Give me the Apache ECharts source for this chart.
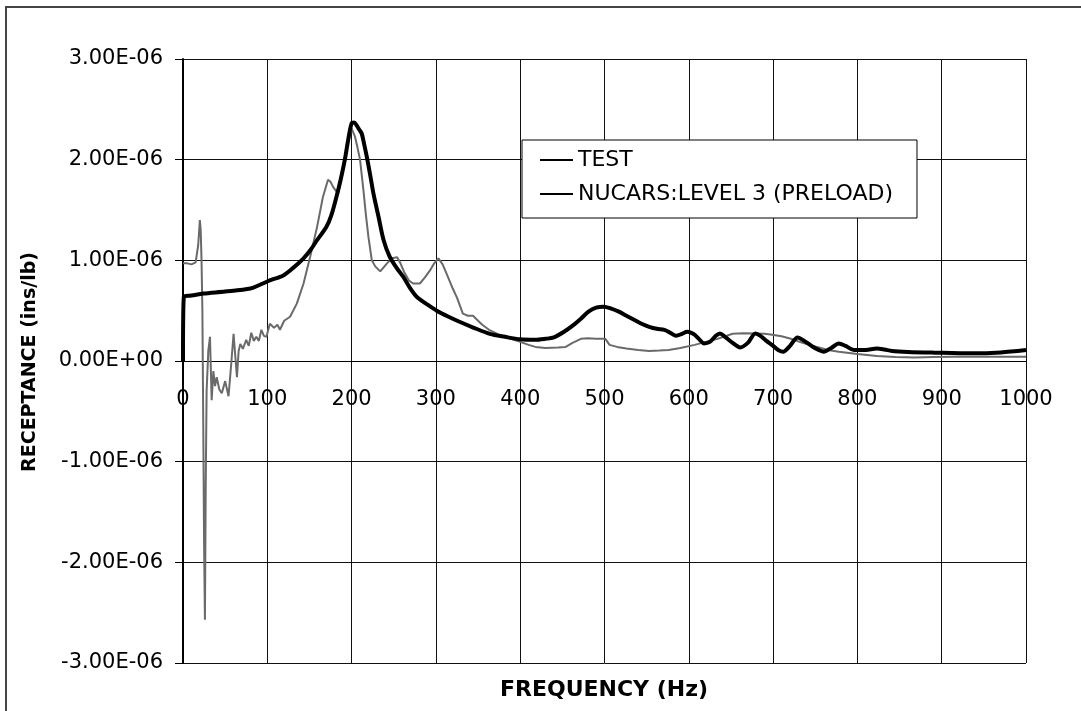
<!DOCTYPE html>
<html>
<head>
<meta charset="utf-8">
<script src="https://cdn.jsdelivr.net/npm/echarts@6/dist/echarts.min.js"></script>
<style>
html,body{margin:0;padding:0;background:#fff;}
#chart{width:1081px;height:711px;}
</style>
</head>
<body>
<div id="chart"></div>
<script>
// Frequency ticks (Hz)
var xTicks = [0, 100, 200, 300, 400, 500, 600, 700, 800, 900, 1000];
// Receptance in units of 1E-06 ins/lb
var yTicks = [-3, -2, -1, 0, 1, 2, 3];

var seriesNames = ['TEST', 'NUCARS:LEVEL 3 (PRELOAD)'];

// TEST (measured)
var testFreq = [0,5,10,15,18,20,21,22,23,24,25,26,27,28,30,32,34,36,38,40,43,46,50,54,57,60,62,64,66,68,71,75,78,81,84,87,90,93,96,99,103,108,112,115,120,127,135,143,151,159,166,172,175,178,184,189,194,200,204,207,210,214,217,220,224,228,234,238,242,248,254,258,262,268,273,281,287,293,298,303,308,314,320,325,332,338,344,350,355,363,373,385,400,410,418,430,445,454,462,472,480,490,501,506,515,526,540,553,565,576,590,607,620,634,652,665,679,690,697,710,720,735,751,765,778,800,823,845,868,890,914,950,1000];
var testVal = [0.97,0.97,0.96,0.98,1.15,1.40,1.30,0.99,0.50,-0.60,-1.80,-2.57,-1.20,-0.30,0.10,0.24,-0.39,-0.10,-0.25,-0.16,-0.28,-0.32,-0.20,-0.35,-0.05,0.27,0.05,-0.16,0.10,0.17,0.12,0.21,0.15,0.28,0.20,0.24,0.20,0.31,0.25,0.24,0.37,0.33,0.36,0.31,0.40,0.44,0.57,0.77,1.04,1.33,1.63,1.80,1.78,1.73,1.66,1.85,2.10,2.31,2.23,2.12,2.00,1.70,1.45,1.23,1.00,0.94,0.89,0.93,0.97,1.02,1.03,0.97,0.89,0.80,0.77,0.77,0.83,0.90,0.97,1.02,0.96,0.84,0.72,0.63,0.47,0.45,0.45,0.40,0.36,0.31,0.27,0.23,0.19,0.16,0.14,0.13,0.135,0.14,0.18,0.22,0.225,0.22,0.22,0.16,0.14,0.125,0.11,0.10,0.105,0.11,0.13,0.16,0.19,0.22,0.27,0.275,0.274,0.27,0.264,0.245,0.224,0.18,0.142,0.11,0.092,0.07,0.05,0.04,0.036,0.04,0.043,0.043,0.043];

// NUCARS model
var nucFreq = [0,1,10,24,50,80,92,103,119,130,143,151,159,170,176,182,187,192,196,200,203,206,209,212,215,218,222,226,232,238,245,253,261,269,277,283,290,301,315,328,345,364,382,400,418,430,440,452,463,472,481,490,499,508,517,526,535,544,553,562,571,578,585,592,598,603,607,613,618,625,632,637,643,652,661,670,679,685,692,699,706,712,720,729,737,747,754,760,769,778,786,796,810,823,832,841,860,891,936,970,1000];
var nucVal = [0,0.64,0.65,0.67,0.69,0.72,0.76,0.80,0.85,0.92,1.02,1.10,1.20,1.33,1.45,1.63,1.80,2.00,2.20,2.36,2.37,2.34,2.30,2.26,2.15,2.03,1.85,1.66,1.43,1.20,1.04,0.93,0.84,0.73,0.64,0.60,0.56,0.50,0.44,0.39,0.33,0.27,0.24,0.215,0.21,0.22,0.234,0.29,0.356,0.42,0.49,0.53,0.54,0.52,0.49,0.45,0.41,0.37,0.34,0.32,0.31,0.28,0.25,0.27,0.29,0.28,0.26,0.21,0.175,0.19,0.25,0.274,0.24,0.18,0.135,0.18,0.274,0.25,0.20,0.158,0.11,0.092,0.15,0.234,0.20,0.142,0.11,0.092,0.13,0.175,0.15,0.109,0.11,0.125,0.115,0.10,0.09,0.083,0.076,0.085,0.109];

function pairs(xs, ys) {
  var out = [];
  for (var i = 0; i < xs.length; i++) out.push([xs[i], ys[i]]);
  return out;
}

var chart = echarts.init(document.getElementById('chart'), null, {renderer: 'canvas'});
var TF = 'DejaVu Sans';
var gridTop = 59, gridBottom = 48, H = 711;
var plotH = H - gridTop - gridBottom;
// pixel distance from bottom of plot to the zero line (derived from the y scale)
var zeroOffset = plotH * (0 - yTicks[0]) / (yTicks[yTicks.length - 1] - yTicks[0]);

chart.setOption({
  backgroundColor: '#ffffff',
  animation: false,
  grid: {left: 183, right: 55, top: gridTop, bottom: gridBottom, containLabel: false},
  xAxis: {
    type: 'value', position: 'bottom', offset: -zeroOffset,
    min: xTicks[0], max: xTicks[xTicks.length - 1], interval: 100,
    axisLine: {show: true, onZero: false, lineStyle: {color: '#000', width: 1}},
    axisTick: {show: false},
    axisLabel: {color: '#000', fontSize: 21, fontFamily: TF, margin: 28,
      formatter: function (v) { return String(v); }},
    splitLine: {show: true, lineStyle: {color: '#111', width: 1}}
  },
  yAxis: {
    type: 'value',
    min: yTicks[0], max: yTicks[yTicks.length - 1], interval: 1,
    axisLine: {show: true, onZero: false, lineStyle: {color: '#000', width: 2}},
    axisTick: {show: true, length: 8, lineStyle: {color: '#000'}},
    axisLabel: {color: '#000', fontSize: 21, fontFamily: TF, margin: 20,
      formatter: function (v) {
        if (v === 0) return '0.00E+00';
        return v.toFixed(2) + 'E-06';
      }},
    splitLine: {show: true, lineStyle: {color: '#111', width: 1}}
  },
  legend: {
    orient: 'vertical', left: 522, top: 140,
    padding: [9, 24, 13, 18], itemGap: 12,
    itemWidth: 33, itemHeight: 2,
    borderColor: '#000', borderWidth: 1, backgroundColor: '#fff',
    textStyle: {color: '#000', fontSize: 22, fontFamily: TF},
    itemStyle: {color: '#000'},
    data: [
      {name: seriesNames[0], icon: 'rect'},
      {name: seriesNames[1], icon: 'rect'}
    ]
  },
  graphic: [
    {type: 'polyline', shape: {points: [[6, 711], [6, 7], [1081, 7]]},
     style: {stroke: '#444', lineWidth: 2, fill: null}},
    {type: 'text', x: 30, y: 362, rotation: Math.PI / 2,
     style: {text: 'RECEPTANCE (ins/lb)', fontSize: 19, fontWeight: 'bold', fontFamily: TF,
       fill: '#000', textAlign: 'center', textVerticalAlign: 'middle'}},
    {type: 'text', x: 604, y: 690,
     style: {text: 'FREQUENCY (Hz)', fontSize: 22, fontWeight: 'bold', fontFamily: TF,
       fill: '#000', textAlign: 'center', textVerticalAlign: 'middle'}}
  ],
  series: [
    {name: seriesNames[0], type: 'line', data: pairs(testFreq, testVal),
     symbol: 'none', smooth: false, z: 2,
     lineStyle: {color: '#6a6a6a', width: 2},
     itemStyle: {color: '#000'}},
    {name: seriesNames[1], type: 'line', data: pairs(nucFreq, nucVal),
     symbol: 'none', smooth: 0.3, z: 3,
     lineStyle: {color: '#000', width: 4},
     itemStyle: {color: '#000'}}
  ]
});
</script>
</body>
</html>
